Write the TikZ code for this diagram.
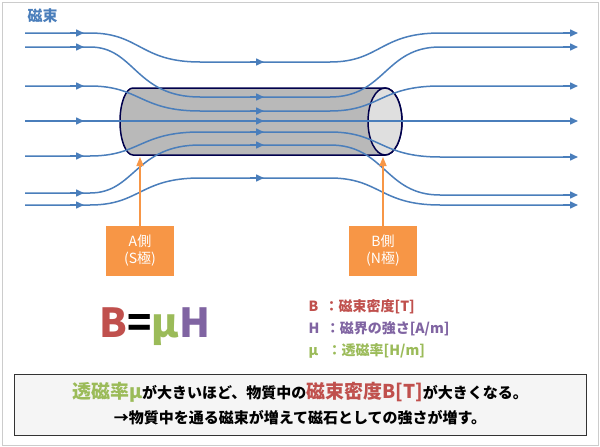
\documentclass[tikz,border=0pt]{standalone}
\usepackage{fontspec}
\setmainfont{Noto Sans CJK JP}
\usetikzlibrary{arrows.meta}
\definecolor{fblue}{HTML}{4A7EBB}
\definecolor{cred}{HTML}{C0504D}
\definecolor{cpur}{HTML}{8064A2}
\definecolor{cgrn}{HTML}{9BBB59}
\definecolor{corg}{HTML}{F79646}
\begin{document}
\begin{tikzpicture}[x=1pt,y=-1pt,
  flux/.style={fblue,line width=1.5pt},
  tip/.style={fblue,line width=1.5pt,-{Triangle[length=8pt,width=7pt]}},
  pole/.style={fill=corg,text=white,minimum width=68pt,minimum height=50pt,inner sep=0pt,align=center,font=\fontsize{14}{17}\selectfont},
  parr/.style={corg,line width=1.5pt,-{Triangle[length=9pt,width=7pt]}}]
\useasboundingbox (0,0) rectangle (600,447);
\fill[white] (0,0) rectangle (600,447);
\draw[gray!40,line width=1pt] (2,2) rectangle (598,445);
% cylinder
\draw[fill=gray!55,draw=blue!30!black,line width=1.5pt] (133,88) -- (385,88) arc[start angle=-90,end angle=90,x radius=17,y radius=33.5] -- (133,155) arc[start angle=90,end angle=270,x radius=13,y radius=33.5] -- cycle;
\draw[fill=gray!25,draw=blue!30!black,line width=1.5pt] (385,121.5) ellipse[x radius=17,y radius=33.5];
% flux lines: left y, mid y, right y
\foreach \a/\m/\b/\s in {33/62/33/0.5, 47/97/47/0.25, 86/111/86/0.5, 121/121/121/0.5, 156/132/157/0.5, 193/145/195/0.25, 205/178/205/0.5}{
  \draw[flux] (25,\a) -- (90,\a) .. controls (130+\s*20,\a) and (130+\s*20,\m) .. (200,\m) -- (330,\m) .. controls (390-\s*20,\m) and (390-\s*20,\b) .. (440,\b) -- (575,\b);
  \draw[tip] (70,\a) -- (84,\a);
  \draw[tip] (250,\m) -- (264,\m);
  \draw[tip] (563,\b) -- (578,\b);
}
% label
\node[fblue,font=\bfseries\fontsize{15}{17}\selectfont,anchor=west] (lbl) at (24,16) {磁束};
% poles
\node[pole] (A) at (140,251) {A側\\(S極)};
\node[pole] (B) at (383,251) {B側\\(N極)};
\coordinate (Ae) at (140,157);
\coordinate (Be) at (383,157);
\draw[parr] (A.north) -- (Ae);
\draw[parr] (B.north) -- (Be);
% equation
\node[font=\bfseries\fontsize{40}{44}\selectfont] (eq) at (155,327) {\textcolor{cred}{B}=\textcolor{cgrn}{μ}\textcolor{cpur}{H}};
\node[anchor=west,font=\bfseries\fontsize{14}{17}\selectfont,text=cred] (l1) at (305,307) {B\ \ ：磁束密度[T]};
\node[anchor=west,font=\bfseries\fontsize{14}{17}\selectfont,text=cpur] (l2) at (305,329) {H\ \ ：磁界の強さ[A/m]};
\node[anchor=west,font=\bfseries\fontsize{14}{17}\selectfont,text=cgrn] (l3) at (305,351) {μ\ \ \ ：透磁率[H/m]};
% bottom box
\draw[fill=gray!8,draw=black!80,line width=1pt] (14,374) rectangle (586,435);
\node[font=\bfseries\fontsize{15}{18}\selectfont] (t1) at (300,392) {\textcolor{cgrn}{\fontsize{19}{20}\selectfont 透磁率μ}が大きいほど、物質中の\textcolor{cred}{\fontsize{19}{20}\selectfont 磁束密度B[T]}が大きくなる。};
\node[font=\bfseries\fontsize{15}{18}\selectfont] (t2) at (300,418) {→物質中を通る磁束が増えて磁石としての強さが増す。};
\end{tikzpicture}
\end{document}
